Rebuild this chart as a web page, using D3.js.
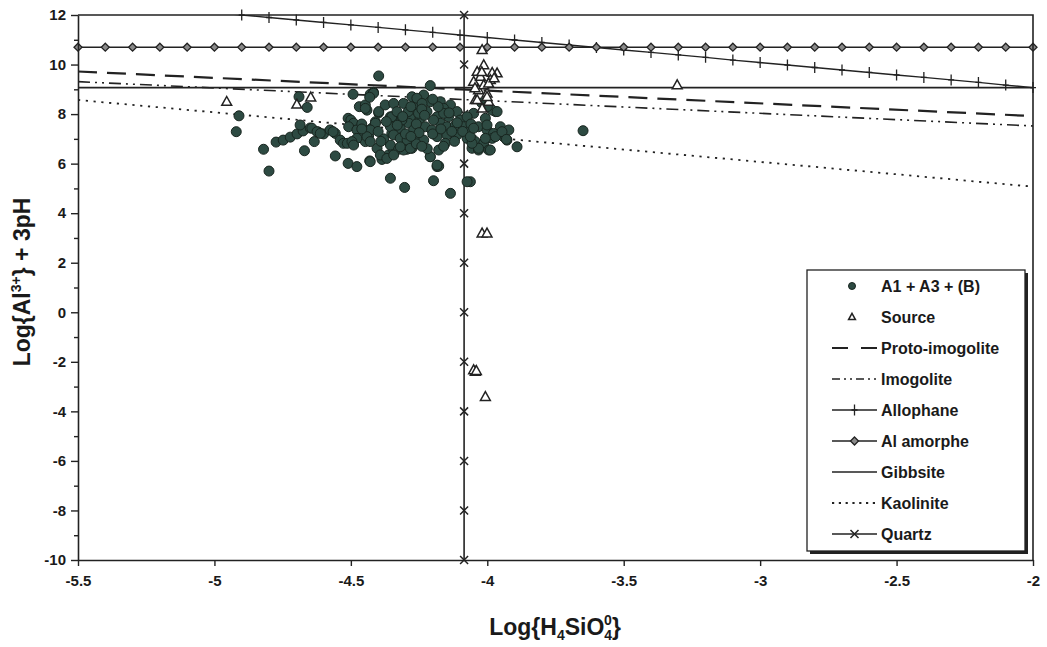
<!DOCTYPE html>
<html><head><meta charset="utf-8">
<script src="https://cdn.jsdelivr.net/npm/d3@7"></script>
<style>
body{margin:0;background:#fff}
svg{display:block}
text{font-family:"Liberation Sans",Arial,sans-serif;font-weight:bold;fill:#1a1a1a}
</style>
</head><body>
<svg id="c" width="1047" height="647"></svg>
<script>
// ---------- data ----------
const xTicks = [-5.5, -5, -4.5, -4, -3.5, -3, -2.5, -2];
const yTicks = [-10, -8, -6, -4, -2, 0, 2, 4, 6, 8, 10, 12];
const yMinorTicks = [-9, -7, -5, -3, -1, 1, 3, 5, 7, 9, 11];

const stepX = [-5.5,-5.4,-5.3,-5.2,-5.1,-5.0,-4.9,-4.8,-4.7,-4.6,-4.5,-4.4,-4.3,-4.2,-4.1,-4.0,-3.9,-3.8,-3.7,-3.6,-3.5,-3.4,-3.3,-3.2,-3.1,-3.0,-2.9,-2.8,-2.7,-2.6,-2.5,-2.4,-2.3,-2.2,-2.1,-2.0];
const alAmorphe = [10.7,10.7,10.7,10.7,10.7,10.7,10.7,10.7,10.7,10.7,10.7,10.7,10.7,10.7,10.7,10.7,10.7,10.7,10.7,10.7,10.7,10.7,10.7,10.7,10.7,10.7,10.7,10.7,10.7,10.7,10.7,10.7,10.7,10.7,10.7,10.7];
const allophane = [12.61,12.51,12.41,12.31,12.21,12.10,12.00,11.90,11.80,11.70,11.60,11.50,11.40,11.30,11.19,11.09,10.99,10.89,10.79,10.69,10.59,10.49,10.39,10.29,10.18,10.08,9.98,9.88,9.78,9.68,9.58,9.48,9.38,9.28,9.17,9.07];

const lineX = [-5.5, -2];
const protoImogolite = [9.72, 7.92];
const imogolite = [9.31, 7.52];
const gibbsite = [9.07, 9.07];
const kaolinite = [8.57, 5.07];

const quartzX = -4.085;
const quartzY = [12, 10, 8, 6, 4, 2, 0, -2, -4, -6, -8, -10];

const samples = [
[-4.91,7.93],[-4.92,7.29],[-4.82,6.58],[-4.80,5.70],[-4.69,8.70],[-4.66,8.27],[-4.67,6.52],
[-4.774,6.87],[-4.748,6.95],[-4.722,7.07],[-4.697,7.20],[-4.675,7.32],[-4.686,7.56],[-4.649,7.44],[-4.62,7.28],[-4.643,7.43],[-4.634,6.89],
[-4.624,7.29],[-4.60,7.20],[-4.576,7.36],[-4.557,7.22],[-4.539,6.95],[-4.527,6.82],[-4.612,7.22],[-4.565,7.29],[-4.513,6.82],
[-4.557,6.31],[-4.51,6.01],[-4.478,5.88],[-4.51,7.83],
[-4.398,9.54],[-4.209,9.15],[-4.492,8.80],[-4.429,8.80],[-4.417,8.88],[-4.469,8.30],[-4.441,8.16],[-4.398,8.05],[-4.447,8.37],
[-4.50,7.76],[-4.49,7.63],[-4.508,7.49],[-4.478,7.36],[-4.453,7.16],[-4.41,7.69],[-4.423,7.43],[-4.435,7.12],[-4.447,6.89],[-4.478,7.02],[-4.496,6.89],[-4.49,6.75],
[-4.431,6.11],[-4.386,6.17],[-4.362,6.35],[-4.343,6.55],[-4.355,6.75],[-4.325,6.58],[-4.294,6.58],[-4.276,6.62],[-4.404,6.62],
[-4.355,5.41],[-4.303,5.04],[-4.197,5.31],[-4.209,6.28],[-4.184,5.88],[-4.135,4.80],[-4.062,5.27],[-4.074,5.27],[-4.178,5.90],
[-4.355,7.89],[-4.353,7.56],[-4.35,7.22],[-4.343,7.89],
[-4.417,8.84],[-4.431,8.68],[-4.276,8.70],[-4.233,8.77],[-4.209,8.50],[-4.172,8.50],[-4.135,8.37],[-4.307,8.43],[-4.264,8.30],[-4.221,8.10],
[-4.282,7.89],[-4.245,7.83],[-4.184,7.89],[-4.142,7.89],[-4.111,8.10],[-4.099,7.76],[-4.05,8.03],[-3.97,8.10],[-4.35,7.89],[-4.355,7.49],
[-4.319,7.43],[-4.288,7.63],[-4.27,7.36],[-4.227,7.49],[-4.203,7.36],[-4.172,7.63],[-4.148,7.49],[-4.117,7.56],[-4.087,7.49],[-4.062,7.36],
[-4.032,7.49],[-4.001,7.36],[-3.977,7.22],[-3.94,7.09],[-3.928,6.95],[-4.398,8.10],[-4.447,8.23],[-4.41,7.63],[-4.429,7.36],[-4.441,7.09],
[-4.429,6.89],[-4.343,7.16],[-4.319,7.02],[-4.294,6.95],[-4.252,7.09],[-4.233,6.95],[-4.184,7.09],[-4.148,7.16],[-4.111,7.16],[-4.074,7.02],
[-4.044,6.89],[-4.013,6.82],[-3.982,7.02],[-4.056,6.62],[-4.032,6.55],[-3.995,6.55],[-4.392,6.35],[-4.368,6.21],[-4.343,6.35],[-4.307,6.55],
[-4.282,6.62],[-4.209,6.28],[-4.178,6.55],[-4.154,6.82],[-4.429,6.08],[-4.184,5.94],[-4.319,6.68],[-4.374,8.37],[-4.343,8.43],[-4.258,8.64],
[-4.239,8.43],[-4.16,8.23],[-4.331,8.10],[-4.313,7.76],[-4.252,8.03],[-4.197,7.76],[-4.074,7.89],[-4.16,8.03],
[-4.30,7.20],[-4.26,7.60],[-4.20,7.20],[-4.13,7.30],[-4.09,7.30],[-4.24,8.20],[-4.29,8.10],[-4.38,7.00],[-4.40,7.30],[-4.46,7.60],
[-4.12,6.90],[-4.26,6.80],[-4.22,6.60],[-4.37,7.70],[-4.18,8.30],
[-4.28,8.30],[-4.23,7.95],[-4.17,7.40],[-4.31,7.90],[-4.25,7.25],[-4.14,8.05],[-4.20,8.60],[-4.33,7.55],[-4.11,7.65],[-4.24,6.70],
[-4.06,7.60],[-4.39,6.90],[-4.16,6.70],[-4.28,7.10],[-4.46,7.40],
[-3.982,8.16],[-4.007,7.83],[-3.964,8.10],[-3.952,7.49],[-3.921,7.36],[-3.891,6.68],[-3.989,6.55],[-4.032,6.62],[-4.056,6.82],[-4.062,7.09],
[-4.05,7.43],[-4.007,7.02],[-3.97,7.09],[-3.946,7.29],[-3.93,6.98],[-4.001,7.56],[-3.649,7.33],[-4.02,8.45],[-4.00,8.30]
];

const source = [
[-4.955,8.50],[-4.698,8.39],[-4.647,8.68],
[-4.019,10.59],[-4.013,9.98],[-4.037,9.71],[-3.964,9.65],[-3.982,9.67],[-4.05,9.31],[-3.989,9.38],[-4.025,9.51],
[-4.032,8.97],[-4.001,8.84],[-4.013,9.17],[-4.044,8.57],[-3.995,8.50],[-4.019,8.23],[-4.001,8.70],[-3.995,9.24],[-4.037,8.57],
[-4.045,9.05],[-4.02,9.70],[-3.975,9.45],
[-3.304,9.17],[-4.019,3.19],[-4.001,3.19],[-4.044,-2.40],[-4.05,-2.33],[-4.04,-2.36],[-4.007,-3.41]
];

const legendLabels = ["A1 + A3 + (B)", "Source", "Proto-imogolite", "Imogolite", "Allophane", "Al amorphe", "Gibbsite", "Kaolinite", "Quartz"];

// ---------- drawing ----------
const svg = d3.select("#c");
const L = 78, R = 1033, T = 15, B = 560;
const x = d3.scaleLinear().domain([-5.5, -2]).range([L, R]);
const y = d3.scaleLinear().domain([-10, 12]).range([B, T]);
const ink = "#222";

svg.append("rect").attr("width", 1047).attr("height", 647).attr("fill", "#fff");
svg.append("defs").append("clipPath").attr("id", "clip")
  .append("rect").attr("x", L).attr("y", T).attr("width", R - L).attr("height", B - T);

const plot = svg.append("g").attr("clip-path", "url(#clip)");

const line = d3.line().x(d => x(d[0])).y(d => y(d[1]));
function pairs(xs, ys) { return xs.map((v, i) => [v, ys[i]]); }

// lines
plot.append("path").datum(pairs(lineX, kaolinite)).attr("d", line)
  .attr("fill", "none").attr("stroke", ink).attr("stroke-width", 1.8).attr("stroke-dasharray", "2.2,5.6");
plot.append("path").datum(pairs(lineX, imogolite)).attr("d", line)
  .attr("fill", "none").attr("stroke", ink).attr("stroke-width", 1.6).attr("stroke-dasharray", "12,5,2,5,2,5");
plot.append("path").datum(pairs(lineX, protoImogolite)).attr("d", line)
  .attr("fill", "none").attr("stroke", ink).attr("stroke-width", 2.2).attr("stroke-dasharray", "19,10");
plot.append("path").datum(pairs(lineX, gibbsite)).attr("d", line)
  .attr("fill", "none").attr("stroke", ink).attr("stroke-width", 1.6);
plot.append("path").datum(pairs(stepX, alAmorphe)).attr("d", line)
  .attr("fill", "none").attr("stroke", ink).attr("stroke-width", 1.6);
plot.append("path").datum(pairs(stepX, allophane)).attr("d", line)
  .attr("fill", "none").attr("stroke", ink).attr("stroke-width", 1.4);
plot.append("path").datum(quartzY.map(v => [quartzX, v])).attr("d", line)
  .attr("fill", "none").attr("stroke", ink).attr("stroke-width", 1.6);

// markers
function plus(g, cx, cy) {
  g.append("path").attr("d", `M${cx},${cy-5.5}V${cy+5.5}M${cx-3},${cy}H${cx+3}`)
    .attr("stroke", ink).attr("stroke-width", 1.3).attr("fill", "none");
}
function diamond(g, cx, cy) {
  g.append("path").attr("d", `M${cx},${cy-4}L${cx+4},${cy}L${cx},${cy+4}L${cx-4},${cy}Z`)
    .attr("fill", "#8a8a8a").attr("stroke", ink).attr("stroke-width", 1.3);
}
function cross(g, cx, cy) {
  g.append("path").attr("d", `M${cx-4},${cy-4}L${cx+4},${cy+4}M${cx+4},${cy-4}L${cx-4},${cy+4}`)
    .attr("stroke", ink).attr("stroke-width", 1.5).attr("fill", "none");
}
function tri(g, cx, cy, s) {
  g.append("path").attr("d", `M${cx},${cy-s}L${cx+s*0.95},${cy+s*0.7}L${cx-s*0.95},${cy+s*0.7}Z`)
    .attr("fill", "#fff").attr("stroke", ink).attr("stroke-width", 1.5);
}

const mk = svg.append("g");
stepX.forEach((v, i) => { if (allophane[i] <= 12.02) plus(mk, x(v), y(allophane[i])); });
stepX.forEach((v, i) => diamond(mk, x(v), y(alAmorphe[i])));
quartzY.forEach(v => cross(mk, x(quartzX), y(v)));

// sample dots
svg.append("g").selectAll("circle").data(samples).join("circle")
  .attr("cx", d => x(d[0])).attr("cy", d => y(d[1])).attr("r", 5)
  .attr("fill", "#2d4a42").attr("stroke", "#18251f").attr("stroke-width", 1);

// source triangles
const tg = svg.append("g");
source.forEach(d => tri(tg, x(d[0]), y(d[1]), 5.2));

// frame
svg.append("path").attr("d", `M${L},${T}H${R}V${B}`).attr("fill", "none").attr("stroke", ink).attr("stroke-width", 1.6);

// axes
const xAxis = svg.append("g").attr("transform", `translate(0,${B})`)
  .call(d3.axisBottom(x).tickValues(xTicks).tickFormat(d => String(d)).tickSize(6).tickSizeOuter(0).tickPadding(9));
const yAxis = svg.append("g").attr("transform", `translate(${L},0)`)
  .call(d3.axisLeft(y).tickValues(yTicks).tickFormat(d => String(d)).tickSize(7).tickSizeOuter(0).tickPadding(5));
svg.append("g").attr("transform", `translate(${L},0)`)
  .call(d3.axisLeft(y).tickValues(yMinorTicks).tickFormat("").tickSize(4).tickSizeOuter(0))
  .select(".domain").remove();
[xAxis, yAxis].forEach(a => {
  a.select(".domain").attr("stroke", ink).attr("stroke-width", 1.6);
  a.selectAll("text").attr("font-size", 15).attr("font-weight", "bold")
    .attr("font-family", '"Liberation Sans", Arial, sans-serif').attr("fill", "#1a1a1a");
});
svg.selectAll(".tick line").attr("stroke", ink).attr("stroke-width", 1.4);

// axis titles
const xt = svg.append("text").attr("x", 555).attr("y", 635).attr("text-anchor", "middle").attr("font-size", 23);
xt.append("tspan").text("Log{H");
xt.append("tspan").attr("font-size", 14).attr("dy", 5).text("4");
xt.append("tspan").attr("dy", -5).text("SiO");
xt.append("tspan").attr("font-size", 14).attr("dy", 5).text("4");
xt.append("tspan").attr("font-size", 14).attr("dy", -15).attr("dx", -8).text("0");
xt.append("tspan").attr("dy", 10).text("}");

const yt = svg.append("text").attr("transform", "translate(30,282) rotate(-90)").attr("text-anchor", "middle").attr("font-size", 23);
yt.append("tspan").text("Log{Al");
yt.append("tspan").attr("font-size", 14).attr("dy", -9).text("3+");
yt.append("tspan").attr("dy", 9).text("} + 3pH");

// legend
const lg = svg.append("g");
const LX = 807, LY = 270, LW = 218, LH = 281;
lg.append("rect").attr("x", LX + 3).attr("y", LY + 3).attr("width", LW).attr("height", LH).attr("fill", ink);
lg.append("rect").attr("x", LX).attr("y", LY).attr("width", LW).attr("height", LH).attr("fill", "#fff").attr("stroke", ink).attr("stroke-width", 1.3);
const rowY = i => 286 + i * 31;
const s0 = 832, s1 = 877, sm = (s0 + s1) / 2;
legendLabels.forEach((t, i) => {
  lg.append("text").attr("x", 881).attr("y", rowY(i) + 6).attr("font-size", 16).text(t);
});
lg.append("circle").attr("cx", 852).attr("cy", rowY(0)).attr("r", 3.5).attr("fill", "#2d4a42").attr("stroke", "#18251f");
tri(lg, 852, rowY(1), 3.6);
const seg = (i, dash, w) => lg.append("line").attr("x1", s0).attr("x2", s1).attr("y1", rowY(i)).attr("y2", rowY(i))
  .attr("stroke", ink).attr("stroke-width", w).attr("stroke-dasharray", dash);
seg(2, "16,13", 2.2);
seg(3, "8,4,2,4,2,4", 1.5);
seg(4, null, 1.4); plus(lg, sm, rowY(4));
seg(5, null, 1.6); diamond(lg, sm, rowY(5));
seg(6, null, 1.6);
seg(7, "2.2,4.6", 1.8);
seg(8, null, 1.6); cross(lg, sm, rowY(8));
</script>
</body></html>
